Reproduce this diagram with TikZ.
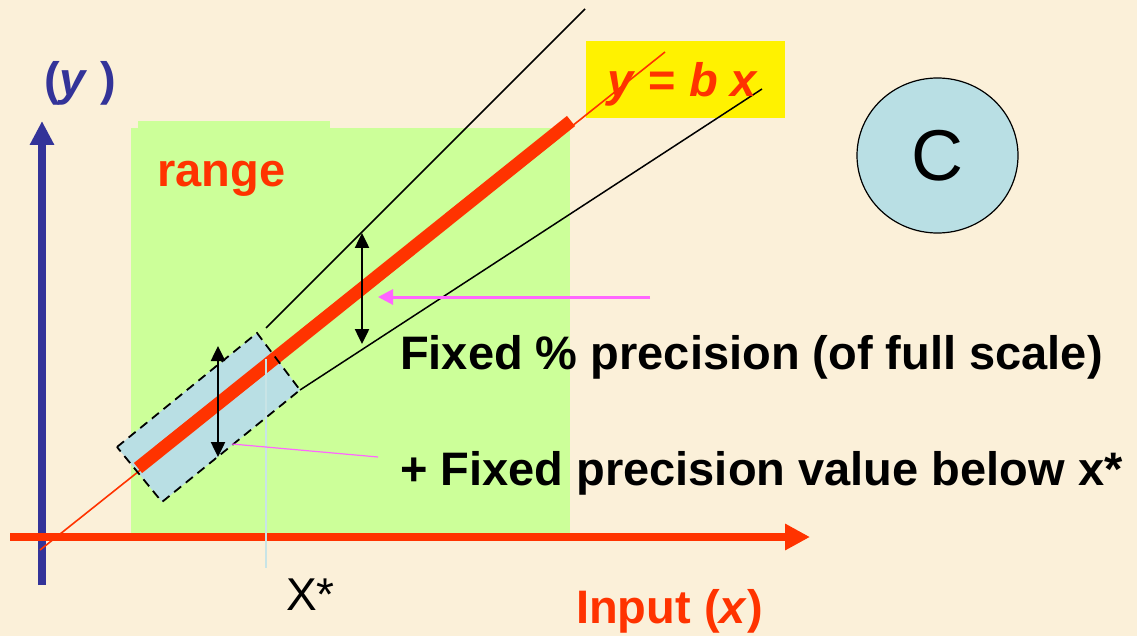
\documentclass[tikz,border=0pt]{standalone}
\usepackage{fontspec}
\setmainfont{Liberation Sans}
\usetikzlibrary{arrows.meta, shapes.geometric, positioning}
\definecolor{PaperBg}{RGB}{251,240,217}
\definecolor{RangeFill}{RGB}{204,255,153}
\definecolor{AxisBlue}{RGB}{51,51,153}
\definecolor{LineRed}{RGB}{255,51,0}
\definecolor{BandFill}{RGB}{185,223,228}
\definecolor{PointerPink}{RGB}{255,102,255}
\definecolor{MarkLine}{RGB}{200,228,230}

\begin{document}
\begin{tikzpicture}[
    x=1pt, y=-1pt,
    txt/.style={font=\fontsize{47}{56}\selectfont\bfseries, inner sep=0pt},
    redtxt/.style={txt, text=LineRed},
    plain/.style={font=\fontsize{46}{55}\selectfont, inner sep=0pt},
    axis/.style={line width=8pt},
    bound/.style={black, line width=1.5pt},
    span/.style={{Triangle[length=15pt, width=14pt]}-{Triangle[length=15pt, width=14pt]},
        black, line width=2.5pt},
    pointer/.style={PointerPink}
]

% ===================================================================
% Background and shaded areas
% ===================================================================
\fill[PaperBg] (0,0) rectangle (1137,636);
\fill[RangeFill] (131,128) rectangle (570,533);
\fill[RangeFill] (138,121) rectangle (330,129);

\node[fill=yellow, minimum width=199pt, minimum height=77pt, inner sep=0pt]
    (eqbox) at (685.5,79.5) {};
\node[ellipse, draw=black, line width=1.2pt, fill=BandFill,
      minimum width=161pt, minimum height=155pt, inner sep=0pt,
      font=\fontsize{72}{80}\selectfont] (cnode) at (937.5,155.5) {C};

% ===================================================================
% Axes
% ===================================================================
\coordinate (ybot) at (42,585);
\coordinate (ytop) at (42,121);
\coordinate (xleft) at (10,537);
\coordinate (xright) at (810,537);
\draw[axis, AxisBlue, -{Triangle[length=24pt, width=23pt]}] (ybot) -- (ytop);
\draw[axis, LineRed, -{Triangle[length=25pt, width=25pt]}] (xleft) -- (xright);

% ===================================================================
% Calibration line and tolerance lines
% ===================================================================
\coordinate (orig) at (40,550);
\coordinate (lineend) at (665,52);
\coordinate (thicklo) at (138,468);
\coordinate (thickhi) at (571,121);
\coordinate (upperlo) at (266,328);
\coordinate (upperhi) at (585,9);
\coordinate (lowerlo) at (300,390);
\coordinate (lowerhi) at (762,89);

\fill[BandFill] (117,447) -- (257,333) -- (300,390) -- (162,502) -- cycle;
\draw[LineRed, line width=1.6pt] (orig) -- (lineend);
\draw[LineRed, line width=13pt] (thicklo) -- (thickhi);
\draw[bound] (upperlo) -- (upperhi);
\draw[bound] (lowerlo) -- (lowerhi);
\draw[black, line width=1.8pt, dash pattern=on 9pt off 6pt]
    (117,447) -- (257,333) -- (300,390) -- (162,502) -- cycle;

% X* marker
\coordinate (xmtop) at (266,359);
\coordinate (xmbot) at (266,568);
\draw[MarkLine, line width=1.5pt] (xmtop) -- (xmbot);

% precision spans
\coordinate (spanAtop) at (218,346);
\coordinate (spanAbot) at (218,457);
\coordinate (spanBtop) at (362,233);
\coordinate (spanBbot) at (362,344);
\draw[span] (spanAtop) -- (spanAbot);
\draw[span] (spanBtop) -- (spanBbot);

% ===================================================================
% Labels
% ===================================================================
\node[txt, text=AxisBlue, anchor=base west] (ylbl) at (44,96)
    {(\textit{y} )};
\node[redtxt, anchor=base west] (rangelbl) at (157,187) {range};
\node[redtxt, anchor=base] (eqlbl) at (683,97) {\textit{y} = \textit{b x}};
\node[txt, anchor=base west] (pctlbl) at (400,369)
    {Fixed \% precision (of full scale)};
\node[txt, anchor=base west] (vallbl) at (400,485)
    {+ Fixed precision value below x*};
\node[plain, anchor=base west] (xstar) at (286,610) {X*};
\node[redtxt, anchor=base west] (inlbl) at (576,623)
    {Input (\textit{x})};

% pointers
\coordinate (ptrstart) at (650,297);
\coordinate (ptrend) at (378,297);
\coordinate (ptr2a) at (378,457);
\coordinate (ptr2b) at (232,444);
\draw[pointer, line width=3pt, -{Triangle[length=15pt, width=15pt]}]
    (ptrstart) -- (ptrend);
\draw[pointer, line width=1.2pt] (ptr2a) -- (ptr2b);

\end{tikzpicture}
\end{document}
